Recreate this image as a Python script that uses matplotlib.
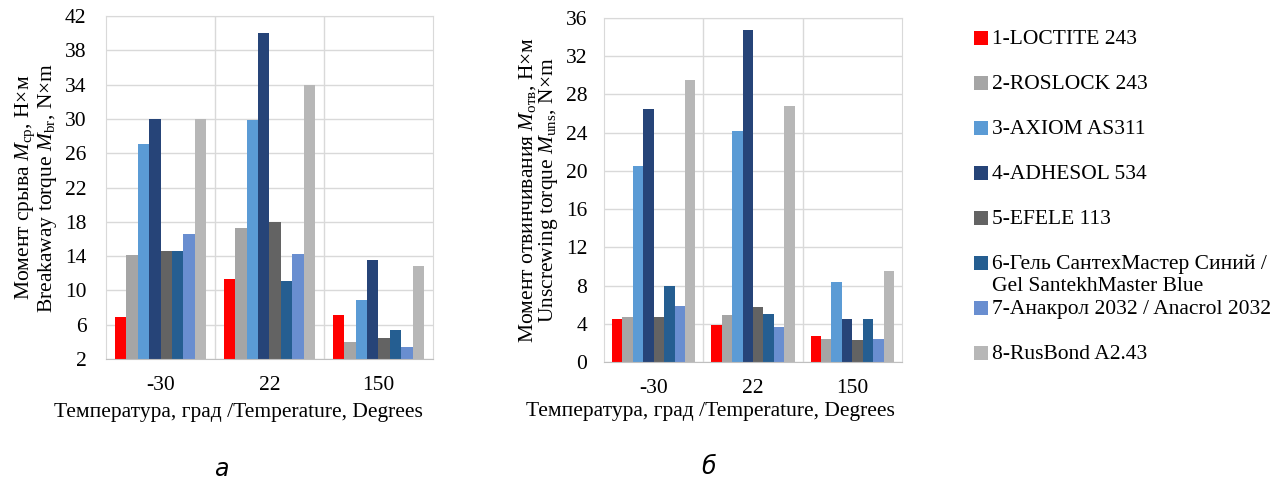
import numpy as np
import matplotlib
matplotlib.use('Agg')
import matplotlib.pyplot as plt

plt.rcParams['font.family'] = ['Liberation Serif', 'DejaVu Serif']
plt.rcParams['mathtext.fontset'] = 'custom'
plt.rcParams['mathtext.rm'] = 'Liberation Serif'
plt.rcParams['mathtext.it'] = 'Liberation Serif:italic'

temps = ['-30', '22', '150']
names = ['1-LOCTITE 243', '2-ROSLOCK 243', '3-AXIOM AS311', '4-ADHESOL 534',
         '5-EFELE 113', '6-Гель СантехМастер Синий /\nGel SantekhMaster Blue',
         '7-Анакрол 2032 / Anacrol 2032', '8-RusBond A2.43']
colors = ['#FF0000', '#A5A5A5', '#5B9BD5', '#264478',
          '#636363', '#255E91', '#698ED0', '#B7B7B7']

# breakaway torque, rows = glue, cols = temperature
breakaway = [
    [6.9, 11.3, 7.1],
    [14.1, 17.3, 4.0],
    [27.1, 29.9, 8.9],
    [30.0, 40.0, 13.6],
    [14.6, 18.0, 4.45],
    [14.6, 11.1, 5.4],
    [16.6, 14.3, 3.45],
    [30.0, 34.0, 12.85],
]

# unscrewing torque
unscrewing = [
    [4.45, 3.9, 2.7],
    [4.7, 4.9, 2.4],
    [20.5, 24.2, 8.4],
    [26.5, 34.7, 4.5],
    [4.75, 5.75, 2.25],
    [8.0, 5.0, 4.5],
    [5.85, 3.65, 2.4],
    [29.5, 26.8, 9.5],
]

fig = plt.figure(figsize=(12.87, 4.79), dpi=100)
ax1 = fig.add_axes([0.0824, 0.2505, 0.254, 0.716])
ax2 = fig.add_axes([0.4693, 0.2443, 0.2315, 0.718])

fs = 15.5
x = np.arange(len(temps))
w = 0.84 / len(names)


def draw(ax, data, ymin, ymax, step, ylabel, ypad, xlab_xy):
    for i, vals in enumerate(data):
        ax.bar(x - 0.42 + w * (i + 0.5), np.array(vals) - ymin, width=w,
               bottom=ymin, color=colors[i], linewidth=0)
    ax.set_xlim(-0.5, len(temps) - 0.5)
    ax.set_ylim(ymin, ymax)
    ax.set_yticks(np.arange(ymin, ymax + 0.1, step))
    ax.set_xticks(x)
    ax.set_xticklabels(temps)
    ax.set_xticks(np.arange(0.5, len(temps) - 0.5), minor=True)
    ax.tick_params(which='both', length=0, labelsize=fs)
    ax.tick_params(axis='x', pad=12)
    ax.tick_params(axis='y', pad=ypad)
    ax.grid(axis='y', color='#D9D9D9', linewidth=1)
    ax.grid(axis='x', which='minor', color='#D9D9D9', linewidth=1)
    ax.set_axisbelow(True)
    for s in ax.spines.values():
        s.set_color('#D9D9D9')
    ax.spines['bottom'].set_color('#BFBFBF')
    ax.set_xlabel('Температура, град /Temperature, Degrees', fontsize=fs)
    ax.xaxis.set_label_coords(*xlab_xy)
    ax.set_ylabel(ylabel, fontsize=fs, labelpad=4, linespacing=0.95)


draw(ax1, breakaway, 2, 42, 4,
     'Момент срыва $M_{\\mathrm{ср}}$, Н×м\nBreakaway torque $M_{\\mathrm{br}}$, N×m',
     14, (0.404, -0.127))
draw(ax2, unscrewing, 0, 36, 4,
     'Момент отвинчивания $M_{\\mathrm{отв}}$, Н×м\nUnscrewing torque $M_{\\mathrm{uns}}$, N×m',
     12, (0.356, -0.117))

# legend, evenly spaced rows like the original
lax = fig.add_axes([0.74, 0.0, 0.26, 1.0])
lax.set_xlim(0, 1)
lax.set_ylim(0, 1)
lax.axis('off')
for i, (nm, c) in enumerate(zip(names, colors)):
    yy = 1 - (38 + 45 * i) / 479
    lax.scatter([0.086], [yy], marker='s', s=95, color=c, linewidths=0)
    lax.text(0.119, yy + 8 / 479, nm, fontsize=fs, va='top', ha='left',
             linespacing=1.15)

fig.text(221 / 1287, 1 - 469 / 479, 'а', fontsize=17, style='italic',
         family='DejaVu Sans', ha='center', va='center')
fig.text(709 / 1287, 1 - 467 / 479, 'б', fontsize=17, style='italic',
         family='DejaVu Sans', ha='center', va='center')

fig.savefig('out.png', dpi=100)
